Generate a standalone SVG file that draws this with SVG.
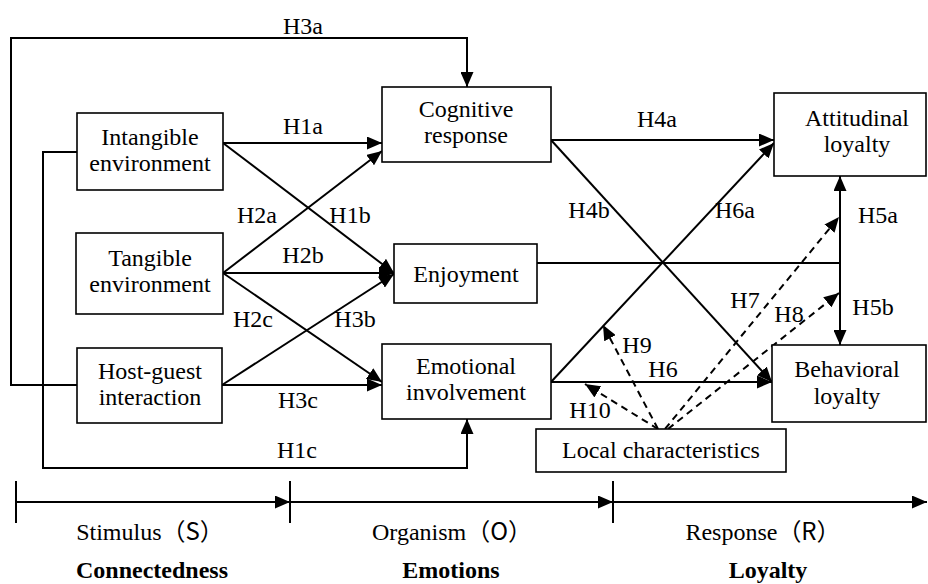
<svg xmlns="http://www.w3.org/2000/svg" width="928" height="584" viewBox="0 0 928 584">
<defs>
<style>
.box{fill:#fff;stroke:#000;stroke-width:1.6}
.c{fill:none;stroke:#000;stroke-width:2}
.d{fill:none;stroke:#000;stroke-width:2;stroke-dasharray:7 5}
.a{marker-end:url(#ah)}
</style>
<marker id="ah" viewBox="0 0 15 13" refX="15" refY="6.5" markerWidth="15" markerHeight="13" markerUnits="userSpaceOnUse" orient="auto">
<path d="M0,0 L15,6.5 L0,13 Z" fill="#000"/>
</marker>
</defs>
<rect width="928" height="584" fill="#fff"/>
<g id="connectors">
<path class="c a" d="M77,385 H11 V38 H467 V87"/>
<path class="c a" d="M77,152 H43 V468 H467 V419"/>
<path class="c a" d="M223,143 L382,143"/>
<path class="c a" d="M223,143 L394,273"/>
<path class="c a" d="M223,273 L382,151"/>
<path class="c a" d="M223,273 L394,273"/>
<path class="c a" d="M223,273 L382,382"/>
<path class="c a" d="M222,385 L394,274"/>
<path class="c a" d="M222,385 L382,385"/>
<path class="c a" d="M551,140 L774,140"/>
<path class="c a" d="M551,140 L772,382"/>
<path class="c a" d="M551,382 L774,143"/>
<path class="c a" d="M551,382 L772,382"/>
<path class="c" d="M537,263 H840"/>
<path class="c a" d="M840,263 V176"/>
<path class="c a" d="M840,263 V345"/>
<path class="d a" d="M665,429 L839,217"/>
<path class="d a" d="M668,429 L839,293"/>
<path class="d a" d="M658,429 L603,325"/>
<path class="d a" d="M658,429 L585,384"/>
</g>
<g id="axis">
<path class="c a" d="M16,502 H290"/>
<path class="c a" d="M290,502 H613"/>
<path class="c a" d="M613,502 H927"/>
<path class="c" d="M16,481 V523 M290,481 V523 M613,481 V523"/>
</g>
<g font-family="Liberation Serif" font-size="24" text-anchor="middle" fill="#000">
<g id="labels">
<text x="303" y="34">H3a</text>
<text x="303" y="134">H1a</text>
<text x="257" y="223">H2a</text>
<text x="350" y="223">H1b</text>
<text x="303" y="263">H2b</text>
<text x="253" y="327">H2c</text>
<text x="355" y="327">H3b</text>
<text x="298" y="408">H3c</text>
<text x="297" y="458">H1c</text>
<text x="657" y="127">H4a</text>
<text x="589" y="218">H4b</text>
<text x="735" y="218">H6a</text>
<text x="878" y="223">H5a</text>
<text x="873" y="315">H5b</text>
<text x="745" y="308">H7</text>
<text x="789" y="322">H8</text>
<text x="637" y="353">H9</text>
<text x="663" y="377">H6</text>
<text x="590" y="418">H10</text>
</g>
<g id="intangible">
<rect class="box" x="77" y="113" width="146" height="77"/>
<text x="150" y="145">Intangible</text>
<text x="150" y="171">environment</text>
</g>
<g id="tangible">
<rect class="box" x="76" y="233" width="147" height="81"/>
<text x="150" y="266">Tangible</text>
<text x="150" y="292">environment</text>
</g>
<g id="hostguest">
<rect class="box" x="77" y="348" width="145" height="75"/>
<text x="150" y="379">Host-guest</text>
<text x="150" y="405">interaction</text>
</g>
<g id="cognitive">
<rect class="box" x="382" y="87" width="169" height="75"/>
<text x="466" y="117">Cognitive</text>
<text x="466" y="143">response</text>
</g>
<g id="enjoyment">
<rect class="box" x="394" y="244" width="143" height="59"/>
<text x="466" y="282">Enjoyment</text>
</g>
<g id="emotional">
<rect class="box" x="382" y="344" width="169" height="75"/>
<text x="466" y="374">Emotional</text>
<text x="466" y="400">involvement</text>
</g>
<g id="attitudinal">
<rect class="box" x="774" y="93" width="152" height="83"/>
<text x="857" y="126">Attitudinal</text>
<text x="857" y="152">loyalty</text>
</g>
<g id="behavioral">
<rect class="box" x="772" y="345" width="154" height="77"/>
<text x="847" y="377">Behavioral</text>
<text x="847" y="404">loyalty</text>
</g>
<g id="local">
<rect class="box" x="536" y="429" width="250" height="43"/>
<text x="661" y="458">Local characteristics</text>
</g>
<g id="stages">
<text x="150" y="540">Stimulus<tspan font-family="Noto Sans CJK SC">（S）</tspan></text>
<text x="452" y="540">Organism<tspan font-family="Noto Sans CJK SC">（O）</tspan></text>
<text x="763" y="540">Response<tspan font-family="Noto Sans CJK SC">（R）</tspan></text>
<text font-weight="bold" x="152" y="578">Connectedness</text>
<text font-weight="bold" x="451" y="578">Emotions</text>
<text font-weight="bold" x="768" y="578">Loyalty</text>
</g>
</g>
</svg>
